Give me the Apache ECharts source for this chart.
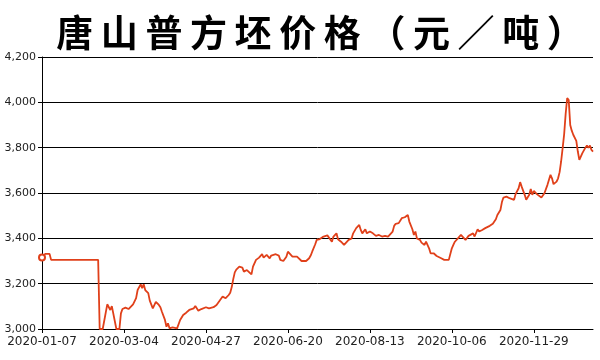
<!DOCTYPE html>
<html>
<head>
<meta charset="utf-8">
<script src="https://cdn.jsdelivr.net/npm/echarts@6/dist/echarts.min.js"></script>
<style>html,body{margin:0;padding:0;background:#fff}#c{width:600px;height:360px}</style>
</head>
<body>
<div id="c"></div>
<script>
// Category axis: daily dates (3 holiday days absent)
const startDate = '2020-01-07';
const missingDays = ['2020-01-25', '2020-01-26', '2020-01-27'];
const dayCount = 364;

const titleText = '唐山普方坯价格（元／吨）';

const sampleIndex = [0,2,5,6,37,38,40,43,45,46,49,51,52,53,55,57,58,60,62,63,65,66,67,68,70,71,73,75,77,78,79,81,82,83,84,86,89,91,93,95,97,100,101,103,105,106,108,110,113,115,117,119,121,123,124,125,126,127,128,130,132,133,135,136,138,139,141,143,144,145,146,148,150,151,152,154,156,157,159,161,162,163,165,166,168,169,171,172,174,176,177,178,180,181,183,185,188,189,191,192,194,195,197,199,200,202,204,205,207,209,210,211,213,214,216,218,220,222,224,226,228,229,231,232,233,235,237,238,239,241,242,244,245,246,247,249,250,252,253,255,256,258,260,261,263,265,268,270,271,272,274,276,277,279,281,282,284,285,287,288,290,292,293,295,297,298,299,300,302,303,304,306,308,311,312,314,315,316,318,319,321,322,323,324,326,327,329,331,333,334,335,336,337,339,340,341,342,343,344,345,346,347,348,349,350,351,352,353,354,355,356,358,359,360,361,362,363];
const price = [3315,3331,3331,3305,3305,3000,3000,3109,3084,3101,3000,3000,3069,3088,3094,3088,3096,3109,3136,3172,3197,3180,3197,3172,3158,3125,3091,3120,3106,3096,3076,3040,3010,3025,3003,3007,3003,3040,3062,3072,3084,3091,3101,3081,3088,3087,3096,3091,3096,3106,3125,3143,3136,3150,3160,3185,3220,3250,3262,3275,3271,3253,3260,3253,3241,3275,3305,3315,3312,3330,3315,3327,3312,3324,3319,3330,3324,3305,3300,3319,3341,3339,3319,3315,3319,3312,3300,3305,3300,3312,3324,3341,3374,3393,3397,3406,3413,3406,3385,3408,3422,3396,3385,3371,3378,3393,3400,3422,3445,3459,3437,3422,3440,3422,3430,3422,3411,3415,3408,3411,3408,3405,3430,3455,3464,3467,3489,3484,3493,3503,3474,3440,3415,3430,3400,3393,3381,3371,3385,3356,3334,3334,3322,3327,3312,3305,3305,3356,3371,3385,3400,3415,3422,3393,3411,3408,3422,3408,3440,3430,3437,3445,3449,3455,3464,3474,3484,3503,3525,3560,3580,3584,3577,3570,3595,3621,3648,3628,3592,3570,3592,3618,3592,3609,3595,3589,3580,3599,3636,3658,3680,3665,3639,3650,3665,3692,3739,3798,3860,3950,4019,4010,3900,3875,3857,3864,3830,3783,3746,3742,3776,3800,3809,3800,3809,3790,3783];

const yTicks = { min: 3000, max: 4200, interval: 200 };

// build category labels
const dates = [];
(function () {
  const d = new Date(startDate + 'T00:00:00Z');
  while (dates.length < dayCount) {
    const s = d.toISOString().slice(0, 10);
    if (missingDays.indexOf(s) < 0) dates.push(s);
    d.setUTCDate(d.getUTCDate() + 1);
  }
})();

const seriesData = sampleIndex.map((ix, i) => {
  const item = { value: [ix, price[i]] };
  if (i === 0) { item.symbol = 'emptyCircle'; item.symbolSize = 6; }
  return item;
});

const chart = echarts.init(document.getElementById('c'));
chart.setOption({
  animation: false,
  backgroundColor: '#fff',
  title: {
    text: Array.from(titleText).map(ch => '{a|' + ch + '}').join(''),
    left: 315, top: 8, textAlign: 'center',
    textStyle: {
      rich: { a: { fontFamily: 'Noto Sans CJK SC', fontWeight: 'bold', fontSize: 37, color: '#000', width: 44.6, align: 'center', lineHeight: 40 } }
    }
  },
  grid: { left: 42, right: 7, top: 57, bottom: 31 },
  xAxis: {
    type: 'category', boundaryGap: false, data: dates,
    axisLine: { lineStyle: { color: '#000', width: 1 } },
    axisTick: { interval: 53, length: 4, lineStyle: { color: '#000' } },
    axisLabel: { interval: 53, color: '#222', fontSize: 12, margin: 7, fontFamily: 'DejaVu Sans' },
    splitLine: { show: false }
  },
  yAxis: {
    type: 'value', min: yTicks.min, max: yTicks.max, interval: yTicks.interval,
    axisLine: { show: true, lineStyle: { color: '#000', width: 1 } },
    axisTick: { show: true, length: 4, lineStyle: { color: '#000' } },
    axisLabel: { color: '#222', fontSize: 11, margin: 6, fontFamily: 'DejaVu Sans',
      formatter: v => v.toLocaleString('en-US') },
    splitLine: { lineStyle: { color: '#000', width: 1 } }
  },
  series: [{
    type: 'line', data: seriesData, symbol: 'none', showSymbol: true,
    lineStyle: { color: '#e0401a', width: 1.8 },
    itemStyle: { color: '#e0401a' }
  }]
});
</script>
</body>
</html>
